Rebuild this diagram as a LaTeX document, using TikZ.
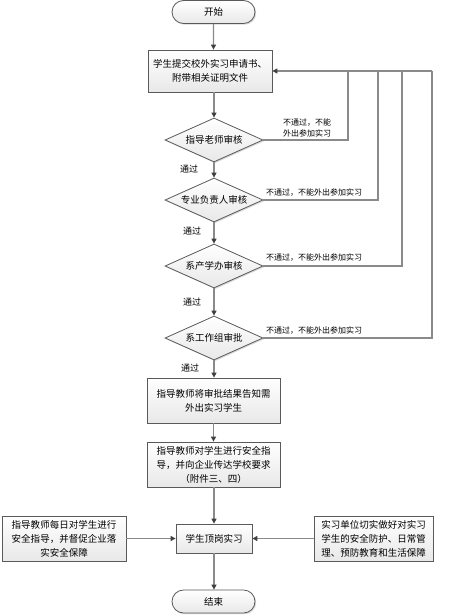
\documentclass[tikz,border=0pt]{standalone}
\usepackage{fontspec}
\setmainfont{Noto Sans CJK SC}
\usetikzlibrary{shapes.geometric,shapes.misc,arrows.meta,shadows}
\definecolor{lnc}{HTML}{8A8A8A}
\definecolor{bdc}{HTML}{5A5A5A}
\definecolor{tipc}{HTML}{404040}
\tikzset{
  boxbase/.style={draw=bdc, line width=0.8pt, top color=white, bottom color=gray!18,
    drop shadow={shadow xshift=1.2pt, shadow yshift=-1.2pt, fill=gray!60},
    font=\fontsize{9.5}{14}\selectfont, align=center, inner sep=0pt},
  procbox/.style={boxbase, rectangle, minimum width=#1, minimum height=45},
  termbox/.style={boxbase, rounded rectangle, minimum width=83, minimum height=23},
  decbox/.style={boxbase, diamond, minimum width=98, minimum height=44, aspect=2.2},
  arr/.style={draw=lnc, line width=1.2pt, -{Triangle[length=5pt,width=5pt,fill=tipc,color=tipc]}},
  ln/.style={draw=lnc, line width=1.2pt},
  lab/.style={font=\fontsize{8}{11}\selectfont, inner sep=0pt, align=center},
  passlab/.style={font=\fontsize{9}{11}\selectfont, inner sep=0pt}
}
\begin{document}
\begin{tikzpicture}[x=1pt,y=-1pt]
\useasboundingbox[fill=white] (0,0) rectangle (448,615);
% nodes
\node[termbox] (start) at (213.5,12) {开始};
\node[procbox=124, minimum height=42] (b1) at (210,71) {学生提交校外实习申请书、\\附带相关证明文件};
\node[decbox] (d1) at (214,140) {指导老师审核};
\node[decbox] (d2) at (214,200) {专业负责人审核};
\node[decbox] (d3) at (214,266) {系产学办审核};
\node[decbox] (d4) at (214,338) {系工作组审批};
\node[procbox=133] (b2) at (213.5,400.5) {指导教师将审批结果告知需\\外出实习学生};
\node[procbox=133] (b3) at (213.5,464.5) {指导教师对学生进行安全指\\导，并向企业传达学校要求\\（附件三、四）};
\node[procbox=76, minimum height=29] (b4) at (214,538.5) {学生顶岗实习};
\node[procbox=124] (bl) at (64,538.5) {指导教师每日对学生进行\\安全指导，并督促企业落\\实安全保障};
\node[procbox=119] (br) at (373.5,538.5) {实习单位切实做好对实习\\学生的安全防护、日常管\\理、预防教育和生活保障};
\node[termbox] (end) at (213.5,601.5) {结束};
% feedback corner coordinates
\coordinate (r1) at (348,71);
\coordinate (r2) at (378,71);
\coordinate (r3) at (402,71);
\coordinate (r4) at (432,71);
% main flow
\draw[arr] (start) -- (start |- b1.north);
\draw[arr] (b1.south -| d1) -- (d1.north);
\draw[arr] (d1.south) -- (d2.north);
\draw[arr] (d2.south) -- (d3.north);
\draw[arr] (d3.south) -- (d4.north);
\draw[arr] (d4.south) -- (d4.south |- b2.north);
\draw[arr] (b2.south) -- (b3.north);
\draw[arr] (b3.south -| b4) -- (b4.north);
\draw[arr] (b4.south) -- (b4.south |- end.north);
\draw[arr] (bl.east) -- (b4.west);
\draw[arr] (br.west) -- (b4.east);
% feedback
\draw[ln] (d4.east) -| (r4);
\draw[ln] (d3.east) -| (r3);
\draw[ln] (d2.east) -| (r2);
\draw[ln] (d1.east) -| (r1);
\draw[arr] (r4) -- (b1.east);
% labels
\node[lab] (l1) at (307,128) {不通过，不能\\外出参加实习};
\node[lab, anchor=south west] (l2) at (266,197) {不通过，不能外出参加实习};
\node[lab, anchor=south west] (l3) at (266,262) {不通过，不能外出参加实习};
\node[lab, anchor=south west] (l4) at (266,335) {不通过，不能外出参加实习};
\node[passlab] (p1) at (189,169) {通过};
\node[passlab] (p2) at (192,231) {通过};
\node[passlab] (p3) at (192,302) {通过};
\node[passlab] (p4) at (190,368) {通过};
\end{tikzpicture}
\end{document}
